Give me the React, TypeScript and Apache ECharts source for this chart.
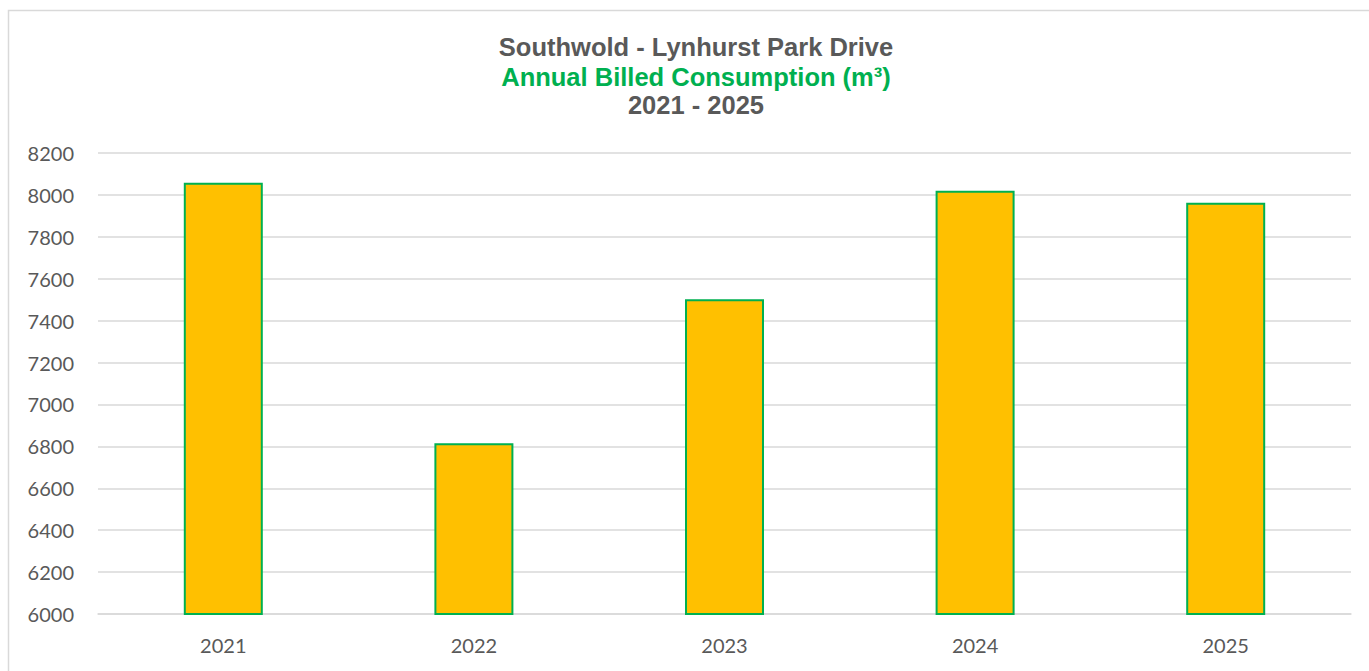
import React, { useEffect, useRef } from "react";
import * as echarts from "echarts";

const categories = ["2021", "2022", "2023", "2024", "2025"];
const consumption = [8058, 6815, 7502, 8020, 7962];
const titleLines = ["Southwold - Lynhurst Park Drive", "Annual Billed Consumption (m³)", "2021 - 2025"];
const yMin = 6000;
const yMax = 8200;
const yStep = 200;

export default function App() {
  const ref = useRef<HTMLDivElement>(null);
  useEffect(() => {
    if (!ref.current) return;
    const chart = echarts.init(ref.current, null, { renderer: "svg" });
    const titleFont = "'Liberation Sans', Arial, sans-serif";
    chart.setOption({
      animation: false,
      backgroundColor: "#ffffff",
      title: [
        { text: titleLines[0], left: 691, top: 29, textAlign: "center", textStyle: { fontFamily: titleFont, fontSize: 25.5, fontWeight: "bold", color: "#595959" } },
        { text: titleLines[1], left: 691, top: 59, textAlign: "center", textStyle: { fontFamily: titleFont, fontSize: 25.5, fontWeight: "bold", color: "#00B050" } },
        { text: titleLines[2], left: 691, top: 87, textAlign: "center", textStyle: { fontFamily: titleFont, fontSize: 25.5, fontWeight: "bold", color: "#595959" } },
      ],
      graphic: [
        { type: "rect", shape: { x: 8.5, y: 10.5, width: 1400, height: 700 }, style: { fill: "none", stroke: "#d9d9d9", lineWidth: 1.5 }, silent: true, z: -1 },
      ],
      grid: { left: 98, right: 18, top: 153, bottom: 57, containLabel: false },
      xAxis: {
        type: "category",
        data: categories,
        axisLine: { show: true, lineStyle: { color: "#d9d9d9", width: 1.5 } },
        axisTick: { show: false },
        axisLabel: { color: "#595959", fontFamily: "Lato, sans-serif", fontSize: 20, margin: 21 },
      },
      yAxis: {
        type: "value",
        min: yMin,
        max: yMax,
        interval: yStep,
        axisLine: { show: false },
        axisTick: { show: false },
        splitLine: { lineStyle: { color: "#d9d9d9", width: 1.5 } },
        axisLabel: { color: "#595959", fontFamily: "Lato, sans-serif", fontSize: 20, margin: 24, formatter: (v: number) => String(v) },
      },
      series: [
        {
          type: "bar",
          data: consumption,
          barWidth: 79,
          itemStyle: { color: "#FFC000", borderColor: "#00B050", borderWidth: 2 },
        },
      ],
    });
    return () => chart.dispose();
  }, []);
  return <div ref={ref} style={{ position: "fixed", left: 0, top: 0, width: 1369, height: 671 }} />;
}
